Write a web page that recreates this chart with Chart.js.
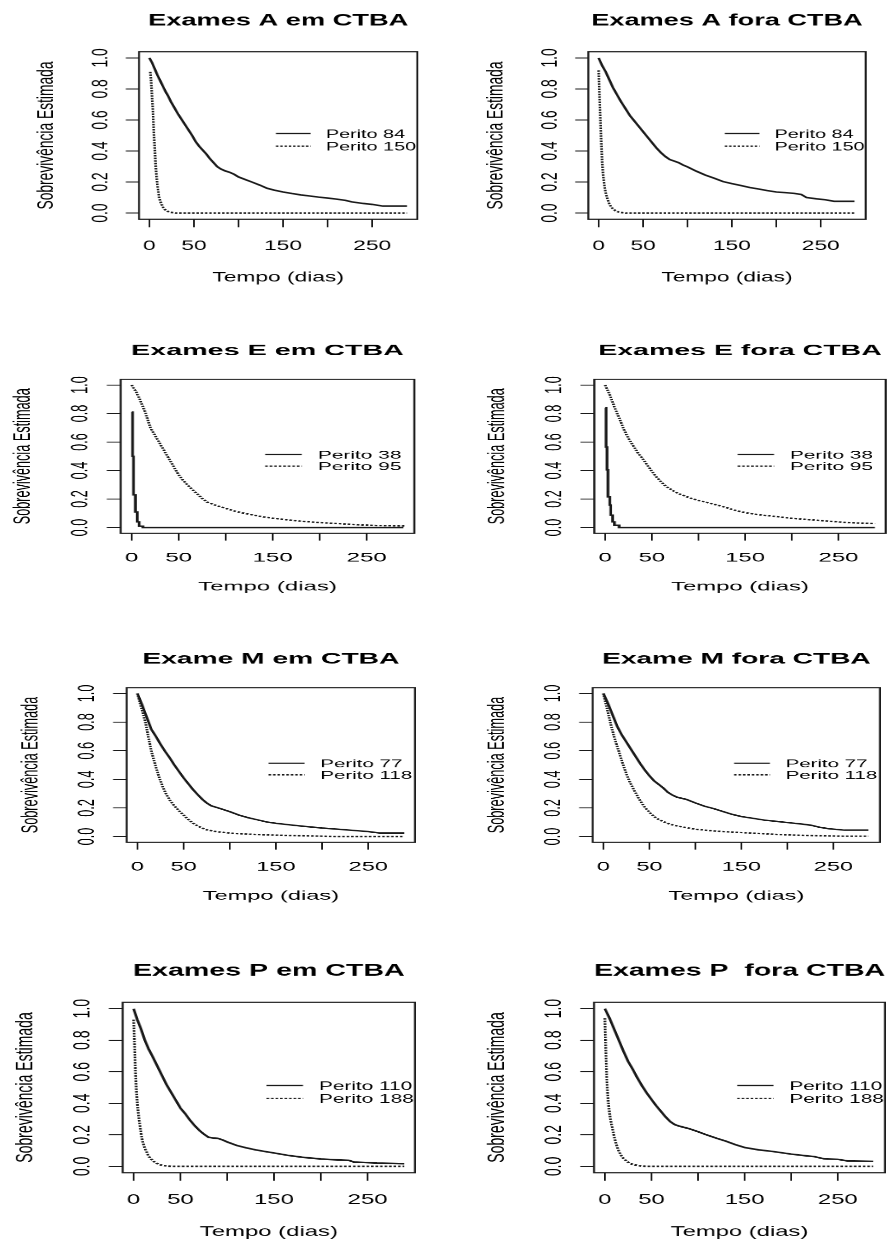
<!DOCTYPE html>
<html>
<head>
<meta charset="utf-8">
<title>Sobrevivência estimada por perito</title>
<script src="https://cdn.jsdelivr.net/npm/chart.js@4/dist/chart.umd.min.js"></script>
<style>
  body { margin: 0; background: #fff; width: 889px; height: 1242px; overflow: hidden; position: relative; }
  .panel { position: absolute; left: 0; top: 0; width: 270px; height: 300px; transform-origin: 0 0; }
</style>
</head>
<body>
<script>
// Kaplan-Meier curves: time (days) and estimated survival at each step

// Exames A em CTBA
const aEm84T = [0, 3, 6, 9, 12, 15, 18, 21, 24, 28, 32, 36, 40, 44, 48, 52, 56, 60, 64, 68, 72, 76, 80, 85, 90, 95, 100, 108, 116, 124, 132, 140, 150, 160, 170, 180, 190, 200, 210, 220, 227, 240, 250, 262, 289];
const aEm84S = [1.0, 0.97, 0.93, 0.89, 0.855, 0.82, 0.785, 0.755, 0.72, 0.68, 0.64, 0.605, 0.57, 0.535, 0.50, 0.46, 0.43, 0.405, 0.38, 0.35, 0.325, 0.30, 0.285, 0.272, 0.263, 0.25, 0.233, 0.215, 0.198, 0.18, 0.16, 0.148, 0.136, 0.126, 0.117, 0.11, 0.103, 0.097, 0.09, 0.082, 0.072, 0.062, 0.056, 0.045, 0.045];
const aEm150T = [1, 2, 3, 4, 5, 6, 7, 8, 9, 10, 11, 13, 15, 17, 20, 24, 30, 289];
const aEm150S = [0.91, 0.85, 0.75, 0.66, 0.52, 0.42, 0.31, 0.24, 0.18, 0.14, 0.10, 0.065, 0.04, 0.025, 0.012, 0.005, 0, 0];

// Exames A fora CTBA
const aFora84T = [0, 4, 8, 12, 16, 20, 25, 30, 35, 40, 45, 50, 55, 60, 65, 70, 75, 80, 85, 90, 95, 100, 110, 120, 130, 140, 150, 160, 170, 180, 190, 200, 210, 220, 228, 234, 245, 255, 265, 288];
const aFora84S = [1.0, 0.95, 0.91, 0.86, 0.81, 0.77, 0.72, 0.675, 0.63, 0.595, 0.56, 0.525, 0.49, 0.455, 0.42, 0.39, 0.365, 0.345, 0.335, 0.325, 0.31, 0.298, 0.27, 0.245, 0.225, 0.203, 0.19, 0.178, 0.165, 0.155, 0.145, 0.136, 0.132, 0.127, 0.12, 0.10, 0.092, 0.086, 0.076, 0.076];
const aFora150T = [0, 1, 2, 3, 4, 5, 6, 7, 8, 10, 12, 14, 16, 19, 23, 30, 288];
const aFora150S = [0.92, 0.75, 0.60, 0.45, 0.33, 0.25, 0.20, 0.16, 0.13, 0.09, 0.06, 0.04, 0.028, 0.015, 0.006, 0, 0];

// Exames E em CTBA
const eEm38T = [0, 1, 2, 4, 6, 8, 12, 289];
const eEm38S = [0.81, 0.50, 0.23, 0.11, 0.04, 0.01, 0, 0];
const eEm95T = [0, 5, 10, 15, 20, 25, 30, 35, 40, 45, 50, 55, 60, 65, 70, 75, 80, 90, 100, 110, 120, 130, 140, 150, 165, 180, 200, 220, 240, 260, 290];
const eEm95S = [1.0, 0.95, 0.88, 0.80, 0.70, 0.645, 0.59, 0.535, 0.48, 0.425, 0.37, 0.33, 0.295, 0.264, 0.235, 0.205, 0.18, 0.155, 0.135, 0.115, 0.10, 0.088, 0.075, 0.066, 0.055, 0.045, 0.035, 0.028, 0.02, 0.015, 0.012];

// Exames E fora CTBA
const eFora38T = [0, 1, 2, 3, 5, 6, 8, 10, 15, 289];
const eFora38S = [0.84, 0.565, 0.405, 0.216, 0.158, 0.087, 0.04, 0.016, 0, 0];
const eFora95T = [0, 5, 10, 15, 20, 25, 30, 35, 40, 45, 50, 55, 60, 65, 70, 75, 80, 90, 100, 110, 120, 130, 140, 150, 165, 180, 200, 220, 240, 260, 289];
const eFora95S = [1.0, 0.93, 0.845, 0.77, 0.69, 0.625, 0.575, 0.525, 0.485, 0.44, 0.395, 0.355, 0.32, 0.29, 0.27, 0.25, 0.235, 0.21, 0.19, 0.175, 0.158, 0.14, 0.12, 0.105, 0.09, 0.08, 0.065, 0.055, 0.045, 0.035, 0.028];

// Exame M em CTBA
const mEm77T = [0, 5, 10, 15, 20, 25, 30, 35, 40, 45, 50, 55, 60, 65, 70, 75, 80, 90, 100, 110, 120, 130, 140, 150, 165, 180, 200, 220, 240, 250, 262, 289];
const mEm77S = [1.0, 0.92, 0.835, 0.75, 0.70, 0.645, 0.595, 0.55, 0.50, 0.455, 0.41, 0.37, 0.33, 0.295, 0.262, 0.235, 0.215, 0.195, 0.174, 0.15, 0.132, 0.117, 0.102, 0.093, 0.082, 0.072, 0.06, 0.05, 0.04, 0.035, 0.025, 0.025];
const mEm118T = [0, 3, 6, 9, 12, 15, 18, 21, 24, 27, 30, 35, 40, 45, 50, 55, 60, 65, 70, 75, 85, 95, 105, 120, 135, 150, 175, 200, 215, 289];
const mEm118S = [1.0, 0.93, 0.86, 0.79, 0.69, 0.60, 0.53, 0.465, 0.405, 0.355, 0.31, 0.255, 0.215, 0.18, 0.15, 0.12, 0.095, 0.075, 0.06, 0.047, 0.035, 0.028, 0.022, 0.017, 0.013, 0.01, 0.006, 0.003, 0, 0];

// Exame M fora CTBA
const mFora77T = [0, 5, 10, 15, 20, 25, 30, 35, 40, 45, 50, 55, 60, 65, 70, 75, 80, 90, 100, 110, 120, 130, 140, 150, 160, 175, 190, 200, 215, 225, 235, 245, 262, 288];
const mFora77S = [1.0, 0.93, 0.85, 0.77, 0.71, 0.66, 0.61, 0.56, 0.51, 0.465, 0.425, 0.39, 0.365, 0.34, 0.31, 0.29, 0.275, 0.26, 0.235, 0.212, 0.195, 0.175, 0.155, 0.14, 0.13, 0.115, 0.105, 0.098, 0.088, 0.08, 0.065, 0.055, 0.045, 0.045];
const mFora118T = [0, 3, 6, 9, 12, 15, 18, 21, 24, 27, 30, 35, 40, 45, 50, 55, 60, 65, 70, 76, 85, 95, 101, 115, 130, 150, 166, 185, 200, 220, 240, 260, 288];
const mFora118S = [1.0, 0.92, 0.84, 0.76, 0.69, 0.63, 0.57, 0.51, 0.455, 0.405, 0.365, 0.305, 0.25, 0.205, 0.17, 0.14, 0.12, 0.105, 0.092, 0.08, 0.068, 0.057, 0.051, 0.042, 0.035, 0.028, 0.023, 0.016, 0.012, 0.008, 0.005, 0.003, 0.003];

// Exames P em CTBA
const pEm110T = [0, 4, 8, 12, 16, 20, 25, 30, 35, 40, 45, 50, 55, 60, 65, 70, 75, 80, 85, 90, 95, 100, 110, 120, 130, 140, 150, 165, 180, 200, 215, 230, 235, 260, 289];
const pEm110S = [1.0, 0.93, 0.87, 0.80, 0.745, 0.70, 0.64, 0.58, 0.52, 0.47, 0.42, 0.37, 0.335, 0.295, 0.26, 0.23, 0.205, 0.185, 0.18, 0.178, 0.168, 0.155, 0.133, 0.118, 0.105, 0.095, 0.085, 0.07, 0.058, 0.047, 0.042, 0.038, 0.028, 0.021, 0.017];
const pEm188T = [0, 1, 2, 3, 4, 5, 6, 7, 8, 9, 10, 12, 14, 16, 18, 20, 23, 27, 32, 40, 289];
const pEm188S = [0.93, 0.78, 0.60, 0.48, 0.40, 0.34, 0.29, 0.25, 0.21, 0.175, 0.15, 0.115, 0.09, 0.065, 0.05, 0.04, 0.025, 0.012, 0.005, 0, 0];

// Exames P fora CTBA
const pFora110T = [0, 5, 10, 15, 20, 25, 30, 35, 40, 45, 50, 55, 60, 65, 70, 75, 80, 90, 100, 110, 120, 130, 140, 150, 165, 180, 200, 215, 225, 235, 250, 260, 288];
const pFora110S = [1.0, 0.94, 0.87, 0.80, 0.73, 0.665, 0.615, 0.56, 0.51, 0.465, 0.425, 0.385, 0.35, 0.315, 0.285, 0.265, 0.255, 0.24, 0.22, 0.198, 0.178, 0.16, 0.138, 0.12, 0.105, 0.095, 0.078, 0.068, 0.062, 0.048, 0.045, 0.035, 0.032];
const pFora188T = [0, 1, 2, 3, 4, 5, 6, 7, 8, 10, 12, 14, 16, 18, 20, 23, 26, 30, 35, 40, 45, 288];
const pFora188S = [0.94, 0.74, 0.56, 0.46, 0.39, 0.34, 0.30, 0.27, 0.245, 0.19, 0.145, 0.11, 0.085, 0.066, 0.05, 0.035, 0.022, 0.012, 0.006, 0.002, 0, 0];

// axes
const xTicks = [0, 50, 100, 150, 200, 250];
const xTickLabels = ['0', '50', '', '150', '', '250'];
const yTicks = [0, 0.2, 0.4, 0.6, 0.8, 1.0];
const yTickLabels = ['0.0', '0.2', '0.4', '0.6', '0.8', '1.0'];
const xTitle = 'Tempo (dias)';
const yTitle = 'Sobrevivência Estimada';

// legend key placement in data units: line from/to, text start, rows
const legendX = [142, 181, 198];
const legendY = [0.513, 0.431];

const ink = '#1a1a1a';
const font = '"Liberation Sans", Arial, sans-serif';

// each plot is drawn on a 270x300 canvas, then stretched into its slot
// stepSolid: the few-event curves keep their staircase look
const panels = [
  { title: 'Exames A em CTBA',    keys: ['Perito 84', 'Perito 150'],  solid: [aEm84T, aEm84S],     dotted: [aEm150T, aEm150S],     box: [139, 51.7, 417.3, 219.3] },
  { title: 'Exames A fora CTBA',  keys: ['Perito 84', 'Perito 150'],  solid: [aFora84T, aFora84S], dotted: [aFora150T, aFora150S], box: [588.3, 51.7, 865.7, 219.3] },
  { title: 'Exames E em CTBA',    keys: ['Perito 38', 'Perito 95'],   solid: [eEm38T, eEm38S],     dotted: [eEm95T, eEm95S],       box: [120.7, 379.3, 414.3, 533.3], stepSolid: true },
  { title: 'Exames E fora CTBA',  keys: ['Perito 38', 'Perito 95'],   solid: [eFora38T, eFora38S], dotted: [eFora95T, eFora95S],   box: [594.3, 379.3, 885.7, 533.3], stepSolid: true },
  { title: 'Exame M em CTBA',     keys: ['Perito 77', 'Perito 118'],  solid: [mEm77T, mEm77S],     dotted: [mEm118T, mEm118S],     box: [126.7, 687.7, 415, 842.3] },
  { title: 'Exame M fora CTBA',   keys: ['Perito 77', 'Perito 118'],  solid: [mFora77T, mFora77S], dotted: [mFora118T, mFora118S], box: [592.7, 687.7, 880, 842.3] },
  { title: 'Exames P em CTBA',    keys: ['Perito 110', 'Perito 188'], solid: [pEm110T, pEm110S],   dotted: [pEm188T, pEm188S],     box: [122.7, 1002.3, 415, 1172.7] },
  { title: 'Exames P  fora CTBA', keys: ['Perito 110', 'Perito 188'], solid: [pFora110T, pFora110S], dotted: [pFora188T, pFora188S], box: [594, 1002.3, 885, 1172.7] }
];

// plot box inside the 270x300 canvas
const inner = { left: 84.2, top: 51.7, right: 252.9, bottom: 219.3 };
const dotDash = [1.5, 1.1];

// R-style frame: box, outward ticks come from the grid, text drawn here
const rPlot = {
  id: 'rPlot',
  afterDraw(chart, args, opts) {
    const { ctx, chartArea: a } = chart;
    const x = chart.scales.x, y = chart.scales.y;
    ctx.save();
    ctx.strokeStyle = ink;
    ctx.lineWidth = 1.2;
    ctx.strokeRect(a.left, a.top, a.right - a.left, a.bottom - a.top);

    ctx.fillStyle = '#000';
    ctx.textAlign = 'center';
    ctx.textBaseline = 'alphabetic';
    const cx = (a.left + a.right) / 2;
    const cy = (a.top + a.bottom) / 2;

    ctx.font = 'bold 16.5px ' + font;
    ctx.fillText(opts.title, cx, a.top - 26.2);

    ctx.font = '13.8px ' + font;
    xTicks.forEach((v, i) => ctx.fillText(xTickLabels[i], x.getPixelForValue(v), a.bottom + 30.8));
    ctx.fillText(xTitle, cx, a.bottom + 62);

    yTicks.forEach((v, i) => {
      ctx.save();
      ctx.translate(a.left - 19.3, y.getPixelForValue(v));
      ctx.rotate(-Math.PI / 2);
      ctx.fillText(yTickLabels[i], 0, 0);
      ctx.restore();
    });
    ctx.save();
    ctx.translate(a.left - 52.2, cy);
    ctx.rotate(-Math.PI / 2);
    ctx.fillText(yTitle, 0, 0);
    ctx.restore();

    // legend
    ctx.font = '12px ' + font;
    ctx.textAlign = 'left';
    ctx.lineWidth = 1.3;
    opts.keys.forEach((label, i) => {
      const ly = y.getPixelForValue(legendY[i]);
      ctx.setLineDash(i === 0 ? [] : dotDash);
      ctx.beginPath();
      ctx.moveTo(x.getPixelForValue(legendX[0]), ly);
      ctx.lineTo(x.getPixelForValue(legendX[1]), ly);
      ctx.stroke();
      ctx.fillText(label, x.getPixelForValue(legendX[2]), ly + 4.3);
    });
    ctx.restore();
  }
};

function toPoints(t, s) {
  return t.map((v, i) => ({ x: v, y: s[i] }));
}

panels.forEach(p => {
  const sx = (p.box[2] - p.box[0]) / (inner.right - inner.left);
  const sy = (p.box[3] - p.box[1]) / (inner.bottom - inner.top);
  const tx = p.box[0] - inner.left * sx;
  const ty = p.box[1] - inner.top * sy;

  const wrap = document.createElement('div');
  wrap.className = 'panel';
  wrap.style.transform = `matrix(${sx}, 0, 0, ${sy}, ${tx}, ${ty})`;
  const canvas = document.createElement('canvas');
  canvas.width = 270;
  canvas.height = 300;
  wrap.appendChild(canvas);
  document.body.appendChild(wrap);

  const gridOpts = { drawOnChartArea: false, drawTicks: true, tickLength: 8, color: ink, lineWidth: 1 };

  new Chart(canvas, {
    type: 'line',
    data: {
      datasets: [
        { data: toPoints(p.solid[0], p.solid[1]), borderColor: ink, borderWidth: 1.6, pointRadius: 0, tension: 0, stepped: !!p.stepSolid },
        { data: toPoints(p.dotted[0], p.dotted[1]), borderColor: ink, borderWidth: 1.6, borderDash: dotDash, pointRadius: 0, tension: 0 }
      ]
    },
    options: {
      responsive: false,
      devicePixelRatio: 2,
      animation: false,
      events: [],
      layout: { padding: { top: inner.top, left: 0, right: 270 - inner.right, bottom: 300 - inner.bottom - 40 } },
      scales: {
        x: {
          type: 'linear', min: -11.6, max: 300.6,
          afterBuildTicks: s => { s.ticks = xTicks.map(v => ({ value: v })); },
          afterFit: s => { s.height = 40; },
          ticks: { display: false },
          grid: gridOpts,
          border: { display: false }
        },
        y: {
          type: 'linear', min: -0.04, max: 1.04,
          afterBuildTicks: s => { s.ticks = yTicks.map(v => ({ value: v })); },
          afterFit: s => { s.width = inner.left; },
          ticks: { display: false },
          grid: gridOpts,
          border: { display: false }
        }
      },
      plugins: {
        legend: { display: false },
        tooltip: { enabled: false },
        rPlot: { title: p.title, keys: p.keys }
      }
    },
    plugins: [rPlot]
  });
});
</script>
</body>
</html>
